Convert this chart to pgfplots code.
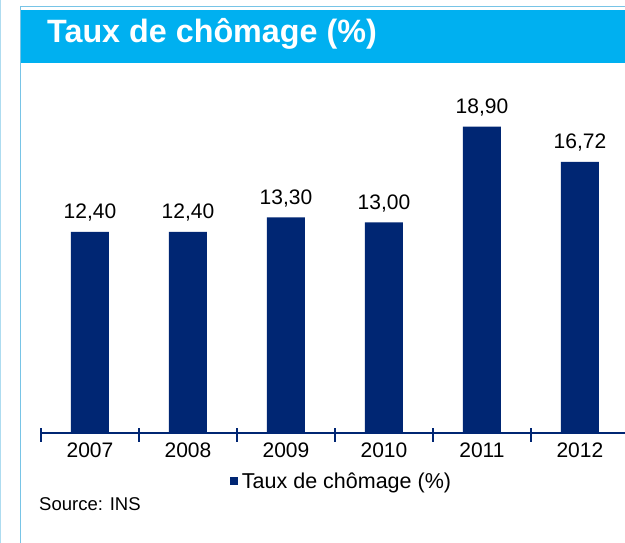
\documentclass[border=0pt]{standalone}
\usepackage{pgfplots}
\pgfplotsset{compat=1.18}
\usepackage{fontspec}
\setmainfont{Liberation Sans}
\definecolor{navy}{RGB}{0,38,115}
\definecolor{titlebar}{RGB}{0,176,240}
\definecolor{frameblue}{RGB}{120,196,230}
\begin{document}
\begin{tikzpicture}[x=1pt,y=1pt]
\useasboundingbox (0,0) rectangle (625,543);
\fill[white] (0,0) rectangle (625,543);
\draw[frameblue!60, line width=1.2pt] (0.8,0) -- (0.8,543);
\draw[frameblue, line width=1pt] (20,0) -- (20,536) -- (625,536);
\fill[titlebar] (21,480) rectangle (625,533);
\node[anchor=base west, text=white, font=\fontsize{32.3}{36}\selectfont\bfseries, inner sep=0pt] at (47,500) {Taux de chômage (\%)};
\begin{axis}[
  at={(41pt,110pt)}, anchor=south west,
  scale only axis, width=584pt, height=324.2pt,
  xmin=-0.5, xmax=5.46, ymin=0, ymax=20,
  axis y line=none,
  axis x line*=bottom,
  x axis line style={navy, line width=1.3pt, -},
  xtick={0,1,2,3,4,5},
  xticklabels={2007,2008,2009,2010,2011,2012},
  major tick length=0pt,
  extra x ticks={-0.5,0.5,1.5,2.5,3.5,4.5},
  extra x tick labels={},
  extra x tick style={major tick length=14pt, tick align=center, tick style={navy, line width=1.3pt, yshift=-2pt}},
  ticklabel style={font=\fontsize{21}{24}\selectfont, text=black},
  xticklabel style={yshift=-6pt},
  ybar, bar width=38pt,
  nodes near coords,
  nodes near coords style={font=\fontsize{21}{24}\selectfont, text=black, anchor=base, yshift=13pt,
    /pgf/number format/.cd, fixed, fixed zerofill, precision=2, use comma, assume math mode=true},
  legend style={at={(0.5146,-0.148)}, anchor=center, draw=none, fill=none,
    font=\fontsize{21.5}{24}\selectfont, legend columns=1},
  legend image code/.code={\fill[navy] (0pt,-4pt) rectangle (8pt,4pt);},
  clip=false,
]
\addplot[fill=navy, draw=none] coordinates {(0,12.40) (1,12.40) (2,13.30) (3,13.00) (4,18.90) (5,16.72)};
\addlegendentry{\hspace{2pt}Taux de chômage (\%)}
\end{axis}
\node[anchor=base west, inner sep=0pt, font=\fontsize{18.5}{22}\selectfont] at (39,32) {Source: INS};
\end{tikzpicture}
\end{document}
